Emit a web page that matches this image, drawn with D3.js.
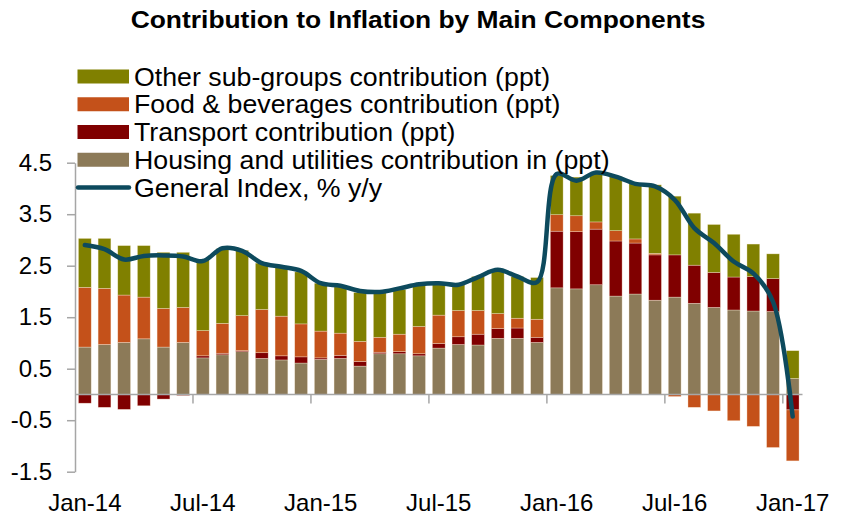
<!DOCTYPE html>
<html>
<head>
<meta charset="utf-8">
<script src="https://cdn.jsdelivr.net/npm/d3@7"></script>
<style>
  body { margin: 0; background: #fff; }
  svg { display: block; font-family: "Liberation Sans", Arial, sans-serif; }
</style>
</head>
<body>
<svg id="chart" width="841" height="516"></svg>
<script>
const months = [
  'Jan-14','Feb-14','Mar-14','Apr-14','May-14','Jun-14','Jul-14','Aug-14','Sep-14','Oct-14','Nov-14','Dec-14',
  'Jan-15','Feb-15','Mar-15','Apr-15','May-15','Jun-15','Jul-15','Aug-15','Sep-15','Oct-15','Nov-15','Dec-15',
  'Jan-16','Feb-16','Mar-16','Apr-16','May-16','Jun-16','Jul-16','Aug-16','Sep-16','Oct-16','Nov-16','Dec-16',
  'Jan-17'
];
const housing = [0.92,0.97,1.01,1.08,0.92,1.01,0.71,0.77,0.83,0.70,0.67,0.61,0.68,0.70,0.55,0.79,0.79,0.75,0.90,0.97,0.96,1.09,1.09,1.01,2.07,2.05,2.13,1.91,1.95,1.83,1.89,1.77,1.69,1.64,1.62,1.61,0.31];
const transport = [-0.17,-0.25,-0.29,-0.22,-0.09,-0.02,0.04,0.03,0.02,0.11,0.08,0.12,0.03,0.06,0.09,0.03,0.04,0.04,0.09,0.15,0.21,0.19,0.20,0.10,1.10,1.11,1.08,1.07,0.99,0.88,0.82,0.74,0.68,0.64,0.67,0.64,-0.30];
const food = [1.16,1.09,0.92,0.81,0.75,0.68,0.49,0.58,0.68,0.84,0.77,0.64,0.52,0.43,0.39,0.29,0.34,0.53,0.55,0.51,0.46,0.29,0.19,0.35,0.32,0.31,0.14,0.20,0.08,0.03,-0.04,-0.25,-0.32,-0.51,-0.62,-1.03,-0.99];
const other = [0.95,0.97,0.96,1.00,1.09,1.07,1.38,1.45,1.27,0.90,0.95,1.01,0.93,0.90,0.95,0.87,0.87,0.81,0.61,0.50,0.66,0.85,0.81,0.81,0.76,0.75,0.94,1.05,1.08,1.33,1.14,1.01,0.93,0.83,0.63,0.48,0.54];
const generalIndex = [2.90,2.82,2.62,2.69,2.70,2.68,2.59,2.84,2.79,2.55,2.48,2.40,2.16,2.11,2.01,1.99,2.06,2.14,2.16,2.13,2.28,2.42,2.29,2.18,4.28,4.15,4.31,4.23,4.09,4.04,3.78,3.23,2.94,2.58,2.35,1.80,-0.43];
const yTicks = [-1.5,-0.5,0.5,1.5,2.5,3.5,4.5];
const xLabels = ['Jan-14','Jul-14','Jan-15','Jul-15','Jan-16','Jul-16','Jan-17'];

const seriesNames = {
  other: 'Other sub-groups contribution (ppt)',
  food: 'Food & beverages contribution (ppt)',
  transport: 'Transport contribution (ppt)',
  housing: 'Housing and utilities contribution in (ppt)'
};
const colors = {
  housing: '#8c7a58',
  transport: '#800000',
  food: '#c4511a',
  other: '#808000',
  line: '#0d4a5d'
};

const table = months.map((m, i) => ({
  month: m, housing: housing[i], transport: transport[i], food: food[i], other: other[i]
}));
const keys = ['housing', 'transport', 'food', 'other'];
const stacked = d3.stack().keys(keys).offset(d3.stackOffsetDiverging)(table);

const svg = d3.select('#chart');

const x = d3.scaleBand()
  .domain(months)
  .range([75, 802.5])
  .paddingInner(0.35)
  .paddingOuter(0.175);
const y = d3.scaleLinear()
  .domain([-1.5, 4.5])
  .range([471.7, 162.7]);

// bars
svg.append('g')
  .selectAll('g')
  .data(stacked)
  .enter()
  .append('g')
  .attr('fill', d => colors[d.key])
  .selectAll('rect')
  .data(d => d)
  .enter()
  .append('rect')
  .attr('x', d => x(d.data.month))
  .attr('width', x.bandwidth())
  .attr('y', d => y(Math.max(d[0], d[1])))
  .attr('height', d => Math.abs(y(d[0]) - y(d[1])))
  .attr('stroke', 'rgba(255,240,220,0.55)')
  .attr('stroke-width', 0.6);

// y axis
const yAxis = d3.axisLeft(y)
  .tickValues(yTicks)
  .tickSize(8)
  .tickSizeOuter(0)
  .tickPadding(15)
  .tickFormat(d => d.toFixed(1));
const yG = svg.append('g')
  .attr('transform', 'translate(75,0)')
  .call(yAxis);
yG.select('.domain').attr('stroke', '#a6a6a6').attr('stroke-width', 1.5);
yG.selectAll('.tick line').attr('stroke', '#a6a6a6').attr('stroke-width', 1.5);
yG.selectAll('.tick text')
  .attr('font-size', 24)
  .attr('font-family', '"Liberation Sans", Arial, sans-serif')
  .attr('fill', '#000');

// x axis at zero
const y0 = y(0);
const step = x.step();
const edge = m => x(m) - (step - x.bandwidth()) / 2;
svg.append('line')
  .attr('x1', x.range()[0])
  .attr('x2', x.range()[1])
  .attr('y1', y0)
  .attr('y2', y0)
  .attr('stroke', '#a6a6a6')
  .attr('stroke-width', 1.5);
svg.append('g')
  .selectAll('line')
  .data(xLabels.slice(1))
  .enter()
  .append('line')
  .attr('x1', d => edge(d))
  .attr('x2', d => edge(d))
  .attr('y1', y0)
  .attr('y2', y0 + 9)
  .attr('stroke', '#a6a6a6')
  .attr('stroke-width', 1.5);
svg.append('g')
  .selectAll('text')
  .data(xLabels)
  .enter()
  .append('text')
  .attr('x', d => x(d) + x.bandwidth() / 2)
  .attr('y', 511)
  .attr('text-anchor', 'middle')
  .attr('font-size', 24)
  .text(d => d);

// general index line
const line = d3.line()
  .x((d, i) => x(months[i]) + x.bandwidth() / 2)
  .y(d => y(d))
  .curve(d3.curveCatmullRom);
svg.append('path')
  .attr('d', line(generalIndex))
  .attr('fill', 'none')
  .attr('stroke', colors.line)
  .attr('stroke-width', 4.5)
  .attr('stroke-linecap', 'round')
  .attr('stroke-linejoin', 'round');

// legend (text a little wider than the font, like the original)
const legendItems = ['other', 'food', 'transport', 'housing'];
const legend = svg.append('g');
legendItems.forEach((k, i) => {
  const cy = 76.5 + i * 27.75;
  legend.append('rect')
    .attr('x', 77.5).attr('y', cy - 7)
    .attr('width', 51.5).attr('height', 14)
    .attr('fill', colors[k]);
  legend.append('text')
    .attr('transform', 'translate(134,' + cy + ') scale(1.07,1)')
    .attr('dy', '0.36em')
    .attr('font-size', 25)
    .text(seriesNames[k]);
});
const lcy = 76.5 + 4 * 27.75;
legend.append('line')
  .attr('x1', 78).attr('x2', 129)
  .attr('y1', lcy).attr('y2', lcy)
  .attr('stroke', colors.line)
  .attr('stroke-width', 4.5)
  .attr('stroke-linecap', 'round');
legend.append('text')
  .attr('transform', 'translate(134,' + lcy + ') scale(1.07,1)')
  .attr('dy', '0.36em')
  .attr('font-size', 25)
  .text('General Index, % y/y');

// title
svg.append('text')
  .attr('transform', 'translate(418,28) scale(1.1,1)')
  .attr('text-anchor', 'middle')
  .attr('font-size', 24)
  .attr('font-weight', 'bold')
  .text('Contribution to Inflation by Main Components');
</script>
</body>
</html>
